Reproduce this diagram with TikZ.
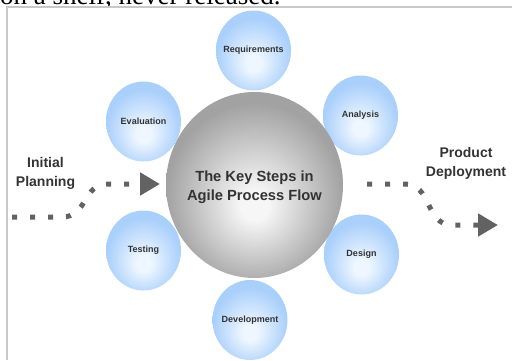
\documentclass[tikz,border=0pt]{standalone}
\usepackage{fontspec}
\setmainfont{Liberation Sans}
\newfontfamily\serifface{Liberation Serif}
\usetikzlibrary{shapes.geometric}
\usetikzlibrary{arrows.meta}

\definecolor{bubbleinner}{HTML}{EEF6FF}
\definecolor{bubbleouter}{HTML}{A9CFFB}
\definecolor{coreinner}{HTML}{F6F6F6}
\definecolor{coreouter}{HTML}{A2A2A2}
\definecolor{textgray}{HTML}{333333}
\definecolor{flowgray}{HTML}{626262}
\definecolor{framegray}{HTML}{C8C8C8}

\pgfdeclareradialshading{bubbleshade}{\pgfpoint{0bp}{-9bp}}{color(0bp)=(bubbleinner); color(5bp)=(bubbleinner); color(25bp)=(bubbleouter); color(50bp)=(bubbleouter)}
\pgfdeclareradialshading{coreshade}{\pgfpoint{0bp}{-6bp}}{color(0bp)=(coreinner); color(4bp)=(coreinner); color(25bp)=(coreouter); color(50bp)=(coreouter)}

\tikzset{
  bubble/.style={ellipse, shade, shading=bubbleshade, minimum width=75pt, minimum height=80pt, inner sep=0pt},
  bubbletext/.style={font=\fontsize{9}{10}\selectfont\bfseries, text=textgray},
  endtext/.style={align=center, font=\fontsize{14}{19}\selectfont\bfseries, text=textgray},
  flowpath/.style={flowgray, line width=5pt, dash pattern=on 5pt off 13pt, -{Triangle[length=20pt,width=22pt]}}
}

\begin{document}
\begin{tikzpicture}[x=1pt, y=-1pt]
\useasboundingbox (0,0) rectangle (512,360);
\path[clip] (0,0) rectangle (512,360);
\node[anchor=base west, inner sep=0pt, font=\serifface\fontsize{27}{27}\selectfont] (shelf) at (0,4) {on a shelf, never released.};
\draw[framegray, line width=1.5pt] (512,7) -- (7,7) -- (7,360);
\foreach \Point/\Name/\Label in {(253.5,50.5)/req/Requirements, (360.5,115.5)/ana/Analysis, (361.5,254.5)/des/Design, (250,320)/dev/Development, (143.5,250.5)/tst/Testing, (143.5,121.5)/evl/Evaluation}
    \node[bubble, label={[bubbletext]center:\Label}] (\Name) at \Point {};
\node[ellipse, shade, shading=coreshade, minimum width=177pt, minimum height=186pt, inner sep=0pt,
      label={[align=center, font=\fontsize{14.7}{19}\selectfont\bfseries, text=textgray, yshift=-2pt]center:{The Key Steps in\\Agile Process Flow}}] (core) at (254.5,185) {};
\node[endtext] (initial) at (45.5,173) {Initial\\Planning};
\node[endtext] (product) at (466,163) {Product\\Deployment};
\coordinate (initstart) at (12,217);
\coordinate (initend) at (160,184);
\coordinate (prodstart) at (367,184);
\coordinate (prodend) at (498,225);
\draw[flowpath] (initstart) -- (62,217) .. controls (88,217) and (82,184) .. (108,184) -- (initend);
\draw[flowpath] (prodstart) -- (405,184) .. controls (432,184) and (425,225) .. (452,225) -- (prodend);
\end{tikzpicture}
\end{document}
